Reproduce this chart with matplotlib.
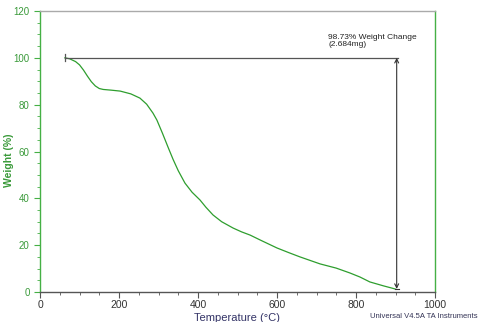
import matplotlib.pyplot as plt
import numpy as np

plt.rcParams['font.family'] = ['Liberation Sans', 'DejaVu Sans']

temp = [63, 75, 90, 100, 110, 120, 130, 140, 150, 160, 180, 203, 230, 253, 270,
        286, 296, 310, 325, 337, 350, 367, 385, 405, 420, 438, 460, 489, 510, 532,
        560, 600, 630, 658, 709, 750, 785, 810, 835, 870, 899]
weight = [100, 99.6, 98.4, 97.0, 94.8, 92.2, 89.8, 88.0, 86.9, 86.5, 86.2, 85.8,
          84.6, 82.8, 80.2, 76.4, 73.4, 67.8, 61.5, 56.6, 51.8, 46.5, 42.6, 39.3,
          36.2, 32.9, 30.0, 27.3, 25.7, 24.3, 22.0, 18.8, 16.8, 15.0, 12.0, 10.2,
          8.1, 6.4, 4.3, 2.6, 1.3]

green = '#2e9e2e'
axgreen = '#45b045'

fig = plt.figure(figsize=(4.8, 3.22), dpi=100)
ax = fig.add_axes([40/480, 30/322, 395/480, 281/322])

ax.plot(temp, weight, color=green, lw=0.9)

# weight change annotation
x0, x1 = temp[0], 903
ax.plot([x0, x1 + 4], [100, 100], color='#555555', lw=0.9)
ax.plot([x0, x0], [98.5, 101.5], color='#555555', lw=0.9)
ax.annotate('', xy=(x1, weight[-1]), xytext=(x1, 100),
            arrowprops=dict(arrowstyle='<->', color='#333333', lw=0.8,
                            mutation_scale=7, shrinkA=0, shrinkB=0))
ax.plot([x1 - 5, x1 + 5], [weight[-1], weight[-1]], color='#333333', lw=0.8)
ax.text(730, 104, '98.73% Weight Change\n(2.684mg)', fontsize=6, color='#222222',
        va='bottom', ha='left', linespacing=1.1)

ax.set_xlim(0, 1000)
ax.set_ylim(0, 120)
ax.set_xticks(np.arange(0, 1001, 200))
ax.set_xticks(np.arange(0, 1001, 50), minor=True)
ax.set_yticks(np.arange(0, 121, 20))
ax.set_yticks(np.arange(0, 121, 5), minor=True)

ax.spines['left'].set_color(axgreen)
ax.spines['right'].set_color(axgreen)
ax.spines['top'].set_color('#aaaaaa')
ax.spines['bottom'].set_color('#555555')
for s in ax.spines.values():
    s.set_linewidth(1.0)

ax.tick_params(axis='y', which='both', colors=axgreen, labelsize=7, labelcolor='#3a9a3a')
ax.tick_params(axis='y', which='major', length=4, width=0.8)
ax.tick_params(axis='y', which='minor', length=2, width=0.6)
ax.tick_params(axis='x', which='both', colors='#555555', labelsize=7.5, labelcolor='#333333')
ax.tick_params(axis='x', which='major', length=4, width=0.8, pad=2)
ax.tick_params(axis='x', which='minor', length=2, width=0.6)

ax.set_xlabel('Temperature (°C)', fontsize=8, color='#333366', labelpad=2)
fig.text(9/480, 1 - 160/322, 'Weight (%)', fontsize=7.5, color='#3a9a3a',
         fontweight='bold', rotation=90, ha='center', va='center')

fig.text(478/480, 1 - 316/322, 'Universal V4.5A TA Instruments', fontsize=5.5,
         color='#333355', ha='right', va='center')

fig.savefig('out.png', dpi=100)
